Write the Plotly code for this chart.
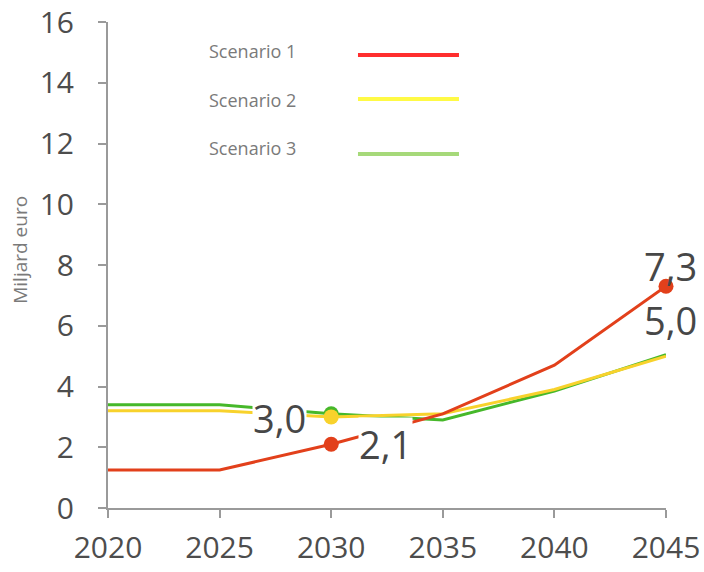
import plotly.graph_objects as go

years = [2020, 2025, 2030, 2035, 2040, 2045]
scenario_1 = [1.25, 1.25, 2.1, 3.1, 4.7, 7.3]
scenario_2 = [3.2, 3.2, 3.0, 3.1, 3.9, 5.0]
scenario_3 = [3.4, 3.4, 3.1, 2.9, 3.85, 5.05]
series_names = ["Scenario 1", "Scenario 2", "Scenario 3"]
y_ticks = [0, 2, 4, 6, 8, 10, 12, 14, 16]
x_ticks = [2020, 2025, 2030, 2035, 2040, 2045]

line_colors = {"Scenario 1": "#E2401B", "Scenario 2": "#F8D22C", "Scenario 3": "#46B82A"}
legend_colors = {"Scenario 1": "#FF2E2E", "Scenario 2": "#FFFA45", "Scenario 3": "#A6D97A"}
values = {"Scenario 1": scenario_1, "Scenario 2": scenario_2, "Scenario 3": scenario_3}
marker_years = {"Scenario 1": [2030, 2045], "Scenario 2": [2030], "Scenario 3": [2030]}

fig = go.Figure()
for name in ["Scenario 3", "Scenario 2", "Scenario 1"]:
    v = values[name]
    fig.add_trace(go.Scatter(x=years, y=v, mode="lines", name=name,
                             line=dict(color=line_colors[name], width=3),
                             showlegend=False, hoverinfo="skip", cliponaxis=False))
    mx = [y for y in years if y in marker_years[name]]
    my = [v[years.index(y)] for y in mx]
    fig.add_trace(go.Scatter(x=mx, y=my, mode="markers", showlegend=False,
                             marker=dict(color=line_colors[name], size=15),
                             hoverinfo="skip", cliponaxis=False))

def fmt(v):
    return f"{v:.1f}".replace(".", ",")

lab_font = dict(family="Open Sans, sans-serif", size=38, color="#474747")
# data labels: (series, year, xanchor, xshift, yshift, white background)
labels = [
    ("Scenario 1", 2030, "left", 27, 0, True),
    ("Scenario 2", 2030, "right", -24, -1, True),
    ("Scenario 1", 2045, "center", 4, 20, False),
    ("Scenario 2", 2045, "center", 4, 36, False),
]
for name, yr, xa, xs, ys, bg in labels:
    v = values[name][years.index(yr)]
    fig.add_annotation(x=yr, y=v, xref="x", yref="y", text=fmt(v), showarrow=False,
                       xanchor=xa, yanchor="middle", xshift=xs, yshift=ys,
                       font=lab_font, bgcolor="white" if bg else "rgba(0,0,0,0)",
                       borderpad=0)

# custom legend (text left, line sample right)
leg_rows = [(0.940, 0.932), (0.8395, 0.8416), (0.7407, 0.7284)]
for name, (ty, ly) in zip(series_names, leg_rows):
    fig.add_annotation(x=0.1774, y=ty, xref="paper", yref="paper", text=name,
                       showarrow=False, xanchor="left", yanchor="middle",
                       font=dict(family="Open Sans, sans-serif", size=18, color="#7a7a7a"))
    fig.add_shape(type="line", xref="paper", yref="paper", x0=0.448, x1=0.629,
                  y0=ly, y1=ly, line=dict(color=legend_colors[name], width=4))

fig.add_annotation(x=-0.158, y=0.531, xref="paper", yref="paper", text="Miljard euro",
                   showarrow=False, textangle=-90, xanchor="center", yanchor="middle",
                   font=dict(family="Open Sans, sans-serif", size=19, color="#7a7a7a"))

axis_font = dict(family="Open Sans, sans-serif", size=30, color="#4d4d4d")
fig.update_layout(
    width=704, height=572,
    margin=dict(l=108, r=38, t=22, b=64, autoexpand=False),
    paper_bgcolor="white", plot_bgcolor="white",
    showlegend=False,
    xaxis=dict(range=[2020, 2045], tickvals=x_ticks, ticktext=[str(t) for t in x_ticks],
               showgrid=False, zeroline=False, showline=True, linecolor="#9a9a9a",
               linewidth=2, ticks="outside", ticklen=8, tickcolor="#9a9a9a", tickwidth=2,
               tickfont=axis_font, ticklabelstandoff=4, automargin=False,
               ticklabeloverflow="allow"),
    yaxis=dict(range=[0, 16], tickvals=y_ticks, showgrid=False, zeroline=False,
               showline=True, linecolor="#9a9a9a", linewidth=2, ticks="outside",
               ticklen=8, tickcolor="#9a9a9a", tickwidth=2, tickfont=axis_font,
               ticklabelstandoff=18, automargin=False, ticklabeloverflow="allow"),
)
fig.write_html("out.html", config={"displayModeBar": False},
               post_script="document.body.style.margin='0';document.body.style.overflow='hidden';")
